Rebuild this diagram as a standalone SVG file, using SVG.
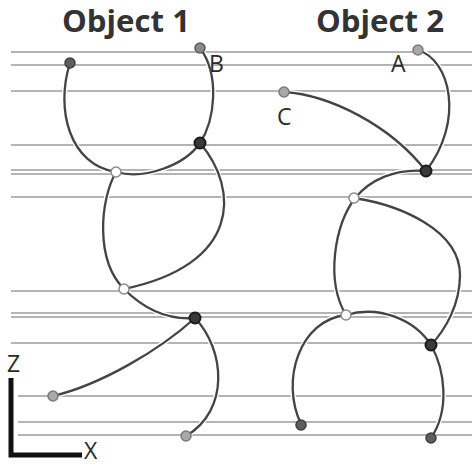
<svg xmlns="http://www.w3.org/2000/svg" width="472" height="466" viewBox="0 0 472 466">
<style>
.grid line{stroke:#b4b4b4;stroke-width:2}
.halo{fill:none;stroke:#fff;stroke-width:5}
.c{fill:none;stroke:#444;stroke-width:2.3}
.dark{fill:#3a3a3a;stroke:#1c1c1c;stroke-width:2}
.white{fill:#fff;stroke:#8a8a8a;stroke-width:1.5}
.end{fill:#8a8a8a;stroke:#5a5a5a;stroke-width:1.5}
.endd{fill:#5e5e5e;stroke:#3e3e3e;stroke-width:1.5}
.endl{fill:#a8a8a8;stroke:#7a7a7a;stroke-width:1.5}
.title{font-family:"Open Sans","Liberation Sans",sans-serif;font-weight:bold;font-size:30px;fill:#333}
.lbl{font-family:"Open Sans","Liberation Sans",sans-serif;font-size:23px;fill:#2a2a2a}
</style>
<rect width="472" height="466" fill="#fff"/>
<g class="grid" id="grid">
<line x1="11" y1="52" x2="472" y2="52"/>
<line x1="11" y1="65" x2="472" y2="65"/>
<line x1="11" y1="91" x2="472" y2="91"/>
<line x1="11" y1="145" x2="472" y2="145"/>
<line x1="11" y1="170" x2="472" y2="170"/>
<line x1="11" y1="174" x2="472" y2="174"/>
<line x1="11" y1="197" x2="472" y2="197"/>
<line x1="11" y1="291" x2="472" y2="291"/>
<line x1="11" y1="313" x2="472" y2="313"/>
<line x1="11" y1="317" x2="472" y2="317"/>
<line x1="11" y1="343" x2="472" y2="343"/>
<line x1="18" y1="396" x2="472" y2="396"/>
<line x1="18" y1="422" x2="472" y2="422"/>
<line x1="18" y1="435" x2="472" y2="435"/>
</g>
<g id="connectors">
<g class="halo">
<path d="M70,63 C55,110 70,165 116,172 C145,180 185,165 200,143 C215,120 220,75 200,48"/>
<path d="M116,172 C100,200 95,260 124,289 C145,310 170,320 195,318"/>
<path d="M200,143 C240,190 240,265 124,289"/>
<path d="M195,318 C160,350 100,385 53,396"/>
<path d="M195,318 C225,350 230,410 186,436"/>
<path d="M418,50 C450,60 465,120 426,171"/>
<path d="M284,92 C330,95 390,125 426,171"/>
<path d="M426,171 C395,168 370,180 355,198 C335,225 325,280 346,315"/>
<path d="M354,198 C400,205 460,230 460,275 C460,305 445,330 431,345"/>
<path d="M346,315 C300,320 280,380 301,424"/>
<path d="M346,315 C380,305 415,320 431,345 C445,370 450,410 431,438"/>
</g>
<g class="c">
<path d="M70,63 C55,110 70,165 116,172 C145,180 185,165 200,143 C215,120 220,75 200,48"/>
<path d="M116,172 C100,200 95,260 124,289 C145,310 170,320 195,318"/>
<path d="M200,143 C240,190 240,265 124,289"/>
<path d="M195,318 C160,350 100,385 53,396"/>
<path d="M195,318 C225,350 230,410 186,436"/>
<path d="M418,50 C450,60 465,120 426,171"/>
<path d="M284,92 C330,95 390,125 426,171"/>
<path d="M426,171 C395,168 370,180 355,198 C335,225 325,280 346,315"/>
<path d="M354,198 C400,205 460,230 460,275 C460,305 445,330 431,345"/>
<path d="M346,315 C300,320 280,380 301,424"/>
<path d="M346,315 C380,305 415,320 431,345 C445,370 450,410 431,438"/>
</g>
</g>
<g id="obj1-n1"><circle class="endd" cx="70" cy="63" r="5"/></g>
<g id="obj1-B"><circle class="end" cx="200" cy="48" r="5"/><text class="lbl" x="209" y="72">B</text></g>
<g id="obj1-n2"><circle class="dark" cx="200" cy="143" r="5.5"/></g>
<g id="obj1-n3"><circle class="white" cx="116" cy="172" r="5"/></g>
<g id="obj1-n4"><circle class="white" cx="124" cy="289" r="5"/></g>
<g id="obj1-n5"><circle class="dark" cx="195" cy="318" r="5.5"/></g>
<g id="obj1-n6"><circle class="endl" cx="53" cy="396" r="5"/></g>
<g id="obj1-n7"><circle class="endl" cx="186" cy="436" r="5"/></g>
<g id="obj2-A"><circle class="endl" cx="418" cy="50" r="5"/><text class="lbl" x="391" y="72">A</text></g>
<g id="obj2-C"><circle class="endl" cx="284" cy="92" r="5"/><text class="lbl" x="277" y="125">C</text></g>
<g id="obj2-n1"><circle class="dark" cx="426" cy="171" r="5.5"/></g>
<g id="obj2-n2"><circle class="white" cx="354" cy="198" r="5"/></g>
<g id="obj2-n3"><circle class="white" cx="346" cy="315" r="5"/></g>
<g id="obj2-n4"><circle class="dark" cx="431" cy="345" r="5.5"/></g>
<g id="obj2-n5"><circle class="endd" cx="301" cy="425" r="5"/></g>
<g id="obj2-n6"><circle class="endd" cx="431" cy="438" r="5"/></g>
<g id="titles">
<text class="title" x="126" y="32" text-anchor="middle" textLength="128" lengthAdjust="spacingAndGlyphs">Object 1</text>
<text class="title" x="380" y="32" text-anchor="middle" textLength="128" lengthAdjust="spacingAndGlyphs">Object 2</text>
</g>
<g id="axes">
<path d="M11,378 V455 H82" fill="none" stroke="#111" stroke-width="5"/>
<text class="lbl" x="7" y="372" font-size="21">Z</text>
<text class="lbl" x="84" y="459" font-size="19">X</text>
</g>
</svg>
